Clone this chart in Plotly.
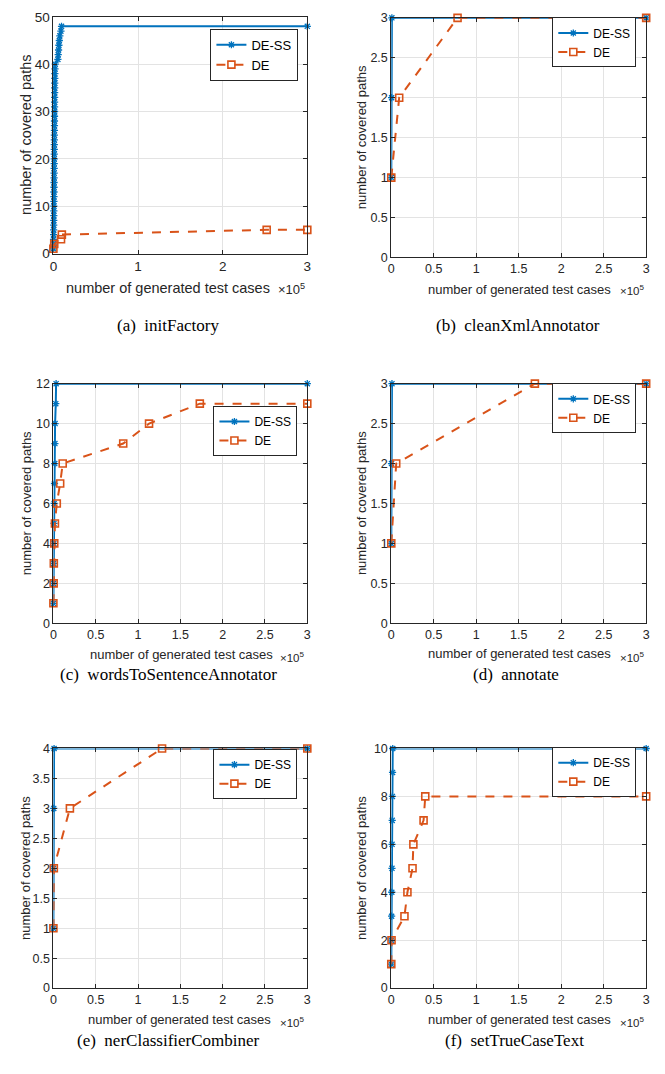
import plotly.graph_objects as go

W, H = 665, 1074

# ---------------- data (x = number of generated test cases) ----------------
a_ss_x = [0, 120, 180, 260, 310, 380, 420, 470, 520, 560, 610, 650, 700, 730, 780, 820,
          860, 900, 940, 980, 1010, 1050, 1090, 1120, 1160, 1200, 1240, 1270, 1310, 1350,
          1390, 1420, 1460, 1500, 1550, 1600, 1680, 1750, 1900, 2200, 5300, 5700, 6100,
          6500, 7000, 7600, 8900, 9600, 300000]
a_ss_y = [1, 2, 3, 4, 5, 6, 7, 8, 9, 10, 11, 12, 13, 14, 15, 16, 17, 18, 19, 20, 21, 22, 23,
          24, 25, 26, 27, 28, 29, 30, 31, 32, 33, 34, 35, 36, 37, 38, 39, 40, 41, 42, 43, 44,
          45, 46, 47, 48, 48]
a_de_x = [0, 1000, 9000, 10000, 252000, 300000]
a_de_y = [1, 2, 3, 4, 5, 5]

b_ss_x = [0, 400, 700, 300000]
b_ss_y = [1, 2, 3, 3]
b_de_x = [0, 9300, 78000, 300000]
b_de_y = [1, 2, 3, 3]

c_ss_x = [0, 200, 300, 500, 700, 900, 1300, 1600, 1800, 2000, 2800, 3200, 300000]
c_ss_y = [1, 2, 3, 4, 5, 6, 7, 8, 9, 10, 11, 12, 12]
c_de_x = [0, 300, 500, 1000, 1800, 4000, 8000, 11000, 82500, 113000, 173000, 300000]
c_de_y = [1, 2, 3, 4, 5, 6, 7, 8, 9, 10, 11, 11]

d_ss_x = [0, 300, 800, 300000]
d_ss_y = [1, 2, 3, 3]
d_de_x = [0, 5800, 169000, 300000]
d_de_y = [1, 2, 3, 3]

e_ss_x = [0, 200, 400, 800, 300000]
e_ss_y = [1, 2, 3, 4, 4]
e_de_x = [0, 500, 19500, 128400, 300000]
e_de_y = [1, 2, 3, 4, 4]

f_ss_x = [0, 200, 400, 600, 800, 900, 1100, 1300, 1500, 1700, 300000]
f_ss_y = [1, 2, 3, 4, 5, 6, 7, 8, 9, 10, 10]
f_de_x = [0, 300, 15500, 19000, 25000, 26000, 38000, 40000, 300000]
f_de_y = [1, 2, 3, 4, 5, 6, 7, 8, 8]

captions = ["(a)  initFactory", "(b)  cleanXmlAnnotator", "(c)  wordsToSentenceAnnotator",
            "(d)  annotate", "(e)  nerClassifierCombiner", "(f)  setTrueCaseText"]

# y ranges and ticks per panel
y_max = [50, 3, 12, 3, 4, 10]
y_dtick = [10, 0.5, 2, 0.5, 0.5, 2]
x_tickvals_a = [0, 100000, 200000, 300000]
x_ticktext_a = ["0", "1", "2", "3"]
x_tickvals = [0, 50000, 100000, 150000, 200000, 250000, 300000]
x_ticktext = ["0", "0.5", "1", "1.5", "2", "2.5", "3"]

series = [(a_ss_x, a_ss_y, a_de_x, a_de_y), (b_ss_x, b_ss_y, b_de_x, b_de_y),
          (c_ss_x, c_ss_y, c_de_x, c_de_y), (d_ss_x, d_ss_y, d_de_x, d_de_y),
          (e_ss_x, e_ss_y, e_de_x, e_de_y), (f_ss_x, f_ss_y, f_de_x, f_de_y)]

# ---------------- layout geometry (pixels) ----------------
boxes = [(50, 307, 10, 250), (392, 650, 11, 254),
         (50, 307, 382, 625), (392, 650, 382, 625),
         (50, 307, 752, 995), (392, 650, 752, 995)]
legend_pos = [(298, 48.5), (640, 36), (297, 430), (640, 407), (297, 778), (640, 776)]
xtitle_pos = [(166, 285), (522, 286), (180, 657), (522, 656), (178, 1027), (522, 1027)]
x10_pos = [(291, 286), (636, 287), (292, 659), (636, 659), (292, 1029), (636, 1029)]
ytitle_x = [22, 362, 23, 362, 22, 362]
caption_pos = [(166, 323), (520, 323), (166, 677), (518, 677), (166, 1048), (517, 1048)]

BLUE = "#0072BD"
ORANGE = "#D95319"
AX = "#262626"
GRID = "#e3e3e3"
FONT = "Liberation Sans, Arial, sans-serif"
SERIF = "Liberation Serif, Times New Roman, serif"

def px(x):
    return x / W

def py(y):
    return 1 - y / H

fig = go.Figure()
annotations = []
layout = dict(width=W, height=H, margin=dict(l=0, r=0, t=0, b=0),
              paper_bgcolor="white", plot_bgcolor="white", showlegend=True)

for i, (ssx, ssy, dex, dey) in enumerate(series):
    k = "" if i == 0 else str(i + 1)
    leg = "legend" + k
    fig.add_trace(go.Scatter(x=ssx, y=ssy, mode="lines+markers", name="DE-SS",
                             xaxis="x" + k, yaxis="y" + k, legend=leg,
                             line=dict(color=BLUE, width=2),
                             marker=dict(symbol="asterisk-open", size=6,
                                         line=dict(color=BLUE, width=1.3)),
                             cliponaxis=False))
    fig.add_trace(go.Scatter(x=dex, y=dey, mode="lines+markers", name="DE",
                             xaxis="x" + k, yaxis="y" + k, legend=leg,
                             line=dict(color=ORANGE, width=2, dash="dash"),
                             marker=dict(symbol="square-open", size=7, color=ORANGE,
                                         line=dict(color=ORANGE, width=1.6)),
                             cliponaxis=False))
    x0, x1, y0, y1 = boxes[i]
    fsz = 13.5 if i == 0 else 12.5
    tsz = 14.5 if i == 0 else 13
    lsz = 13 if i == 0 else 12
    if i == 0:
        tv, tt = x_tickvals_a, x_ticktext_a
    else:
        tv, tt = x_tickvals, x_ticktext
    layout["xaxis" + k] = dict(domain=[px(x0), px(x1)], range=[0, 300000],
                               anchor="y" + k, tickvals=tv, ticktext=tt,
                               showline=True, mirror="ticks", linecolor=AX, linewidth=1,
                               ticks="inside", ticklen=4, tickcolor=AX,
                               showgrid=True, gridcolor=GRID, gridwidth=1,
                               zeroline=False,
                               tickfont=dict(family=FONT, size=fsz, color=AX))
    layout["yaxis" + k] = dict(domain=[py(y1), py(y0)], range=[0, y_max[i]],
                               anchor="x" + k, dtick=y_dtick[i], tick0=0,
                               showline=True, mirror="ticks", linecolor=AX, linewidth=1,
                               ticks="inside", ticklen=4, tickcolor=AX,
                               showgrid=True, gridcolor=GRID, gridwidth=1,
                               zeroline=False,
                               tickfont=dict(family=FONT, size=fsz, color=AX))
    lx, ly = legend_pos[i]
    layout[leg] = dict(x=px(lx), y=py(ly), xanchor="right", yanchor="middle",
                       xref="paper", yref="paper",
                       bordercolor=AX, borderwidth=1, bgcolor="white",
                       font=dict(family=FONT, size=lsz, color="black"),
                       itemwidth=30, tracegroupgap=0)
    tx, ty = xtitle_pos[i]
    annotations.append(dict(text="number of generated test cases", x=px(tx), y=py(ty),
                            xref="paper", yref="paper", showarrow=False,
                            xanchor="center", yanchor="middle",
                            font=dict(family=FONT, size=tsz, color=AX)))
    mx, my = x10_pos[i]
    annotations.append(dict(text="×10<sup>5</sup>", x=px(mx), y=py(my),
                            xref="paper", yref="paper", showarrow=False,
                            xanchor="center", yanchor="middle",
                            font=dict(family=FONT, size=tsz - 1.5, color=AX)))
    annotations.append(dict(text="number of covered paths", x=px(ytitle_x[i]),
                            y=py((y0 + y1) / 2), xref="paper", yref="paper",
                            showarrow=False, textangle=-90,
                            xanchor="center", yanchor="middle",
                            font=dict(family=FONT, size=tsz, color=AX)))
    cx, cy = caption_pos[i]
    annotations.append(dict(text=captions[i], x=px(cx), y=py(cy),
                            xref="paper", yref="paper", showarrow=False,
                            xanchor="center", yanchor="middle",
                            font=dict(family=SERIF, size=17, color="black")))

layout["annotations"] = annotations
fig.update_layout(**layout)
fig.write_html("out.html", config={"displayModeBar": False},
               post_script="document.body.style.margin='0px';"
                           "document.body.style.overflow='hidden';")
